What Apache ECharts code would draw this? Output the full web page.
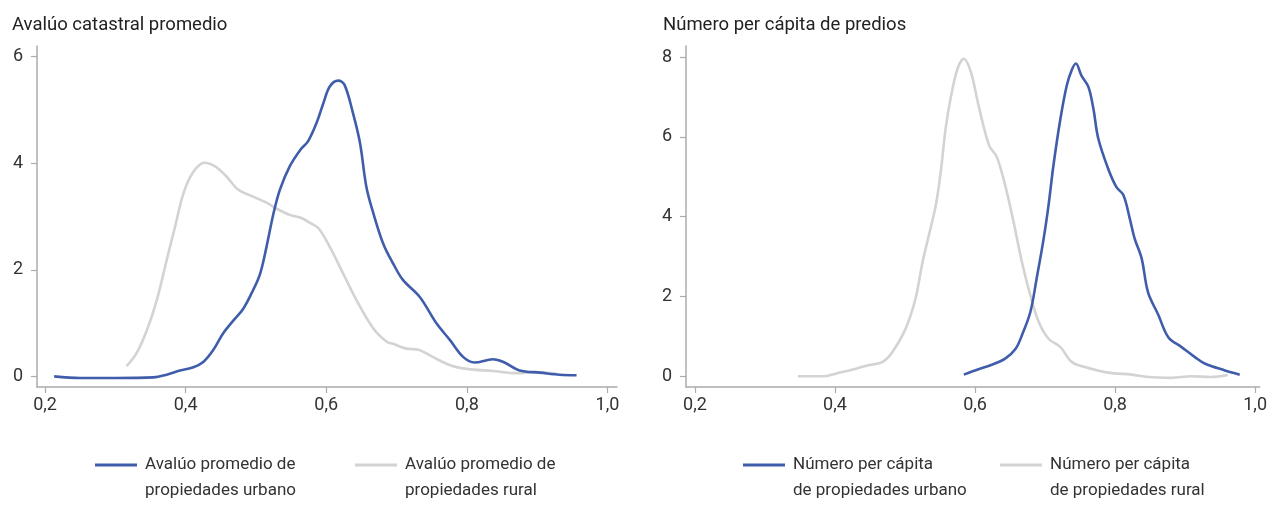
<!DOCTYPE html>
<html>
<head>
<meta charset="utf-8">
<script src="https://cdn.jsdelivr.net/npm/echarts@6/dist/echarts.min.js"></script>
<style>html,body{margin:0;padding:0;background:#fff}#c{width:1270px;height:510px}</style>
</head>
<body>
<div id="c"></div>
<script>
// ---- Data ----
var titles = ['Avalúo catastral promedio', 'Número per cápita de predios'];
var xTicks = [0.2, 0.4, 0.6, 0.8, 1.0];
var yTicksLeft = [0, 2, 4, 6];
var yTicksRight = [0, 2, 4, 6, 8];

var namesLeft = ['Avalúo promedio de\npropiedades urbano', 'Avalúo promedio de\npropiedades rural'];
var namesRight = ['Número per cápita\nde propiedades urbano', 'Número per cápita\nde propiedades rural'];

// Left panel: urban
var avUrbX = [0.213,0.25,0.30,0.354,0.373,0.392,0.411,0.425,0.439,0.453,0.468,0.482,0.496,0.506,0.515,0.525,0.534,0.548,0.563,0.574,0.586,0.596,0.605,0.617,0.626,0.638,0.648,0.657,0.667,0.681,0.695,0.709,0.733,0.757,0.776,0.795,0.811,0.837,0.852,0.875,0.904,0.932,0.956];
var avUrbY = [0.0,-0.03,-0.03,-0.02,0.03,0.11,0.17,0.27,0.49,0.80,1.05,1.27,1.62,1.93,2.43,3.06,3.50,3.94,4.25,4.41,4.75,5.13,5.44,5.55,5.47,4.94,4.38,3.56,3.06,2.49,2.12,1.81,1.49,0.99,0.68,0.36,0.26,0.32,0.27,0.11,0.07,0.03,0.02];
// Left panel: rural
var avRurX = [0.316,0.330,0.345,0.359,0.373,0.385,0.397,0.411,0.427,0.442,0.458,0.475,0.491,0.515,0.529,0.548,0.563,0.577,0.589,0.605,0.624,0.643,0.667,0.686,0.695,0.714,0.731,0.752,0.776,0.800,0.837,0.871,0.899,0.928];
var avRurY = [0.19,0.43,0.87,1.43,2.18,2.81,3.44,3.84,4.01,3.94,3.75,3.50,3.40,3.26,3.15,3.03,2.98,2.88,2.78,2.43,1.93,1.43,0.90,0.65,0.61,0.52,0.50,0.36,0.21,0.14,0.10,0.06,0.08,0.05];
// Right panel: urban
var npUrbX = [0.584,0.601,0.624,0.643,0.658,0.667,0.679,0.688,0.698,0.705,0.712,0.722,0.731,0.738,0.744,0.752,0.762,0.769,0.776,0.790,0.802,0.812,0.821,0.828,0.838,0.847,0.862,0.876,0.895,0.914,0.928,0.956,0.978];
var npUrbY = [0.04,0.15,0.29,0.44,0.69,1.03,1.61,2.45,3.45,4.29,5.29,6.46,7.29,7.67,7.84,7.54,7.25,6.71,5.96,5.21,4.74,4.54,3.95,3.45,2.95,2.11,1.53,0.98,0.73,0.48,0.32,0.15,0.04];
// Right panel: rural
var npRurX = [0.347,0.385,0.402,0.430,0.449,0.468,0.482,0.501,0.515,0.525,0.534,0.544,0.551,0.558,0.565,0.575,0.584,0.594,0.605,0.620,0.631,0.643,0.655,0.667,0.679,0.691,0.705,0.722,0.738,0.757,0.790,0.824,0.847,0.880,0.909,0.937,0.961];
var npRurY = [0.0,0.0,0.07,0.19,0.28,0.36,0.61,1.20,1.95,2.86,3.53,4.29,5.12,6.21,6.96,7.71,7.96,7.63,6.79,5.79,5.50,4.79,3.87,2.86,2.03,1.36,0.94,0.73,0.36,0.23,0.09,0.04,-0.02,-0.04,0.0,-0.02,0.03];

function zip(xs, ys){ return xs.map(function(x,i){ return [x, ys[i]]; }); }

var BLUE = '#3F5DAB', GREY = '#D3D3D3';
var FONT = 'Roboto';
var axisColor = '#ababab';
var textColor = '#333333';

function fmtX(v){ return v.toFixed(1).replace('.', ','); }

function xAxis(idx, min, max){
  return {
    type:'value', gridIndex: idx, min: min, max: max,
    splitLine:{show:false},
    axisLine:{show:true, onZero:false, lineStyle:{color:axisColor, width:1.5}},
    axisTick:{show:true, length:6, lineStyle:{color:axisColor, width:1.2}, customValues: xTicks},
    axisLabel:{customValues: xTicks, formatter: fmtX, color:textColor, fontFamily:FONT, fontSize:18, margin:9}
  };
}
function yAxis(idx, min, max, ticks){
  return {
    type:'value', gridIndex: idx, min: min, max: max,
    splitLine:{show:false},
    axisLine:{show:true, onZero:false, lineStyle:{color:axisColor, width:1.5}},
    axisTick:{show:true, length:6, lineStyle:{color:axisColor, width:1.2}, customValues: ticks},
    axisLabel:{customValues: ticks, color:textColor, fontFamily:FONT, fontSize:18, margin:14}
  };
}
function legend(name, left){
  return {
    data:[name], left:left, top:426, padding:0, icon:'rect', itemWidth:42, itemHeight:3,
    selectedMode:false,
    formatter:function(n){ return '\n' + n; },
    textStyle:{color:textColor, fontFamily:FONT, fontSize:17, lineHeight:26, padding:[0,0,0,3]}
  };
}
function line(name, data, color, xi){
  return {
    type:'line', name:name, data:data, xAxisIndex:xi, yAxisIndex:xi,
    smooth:0.35, showSymbol:false, symbol:'none',
    lineStyle:{color:color, width:2.6}, itemStyle:{color:color},
    z: color === BLUE ? 3 : 2
  };
}

var chart = echarts.init(document.getElementById('c'), null, {renderer:'canvas'});
chart.setOption({
  animation:false,
  backgroundColor:'#ffffff',
  title:[
    {text:titles[0], left:12, top:16, padding:0, textStyle:{fontFamily:FONT, fontSize:18.5, fontWeight:'normal', color:'#222'}},
    {text:titles[1], left:663, top:16, padding:0, textStyle:{fontFamily:FONT, fontSize:18.5, fontWeight:'normal', color:'#222'}}
  ],
  grid:[
    {left:37, top:46, width:580, height:341},
    {left:686, top:46, width:576, height:341}
  ],
  xAxis:[ xAxis(0, 0.1886, 1.0135), xAxis(1, 0.1872, 1.0065) ],
  yAxis:[ yAxis(0, -0.2, 6.2, yTicksLeft), yAxis(1, -0.27, 8.28, yTicksRight) ],
  legend:[
    legend(namesLeft[0], 95), legend(namesLeft[1], 355),
    legend(namesRight[0], 743), legend(namesRight[1], 1000)
  ],
  series:[
    line(namesLeft[1], zip(avRurX, avRurY), GREY, 0),
    line(namesLeft[0], zip(avUrbX, avUrbY), BLUE, 0),
    line(namesRight[1], zip(npRurX, npRurY), GREY, 1),
    line(namesRight[0], zip(npUrbX, npUrbY), BLUE, 1)
  ]
});
</script>
</body>
</html>
